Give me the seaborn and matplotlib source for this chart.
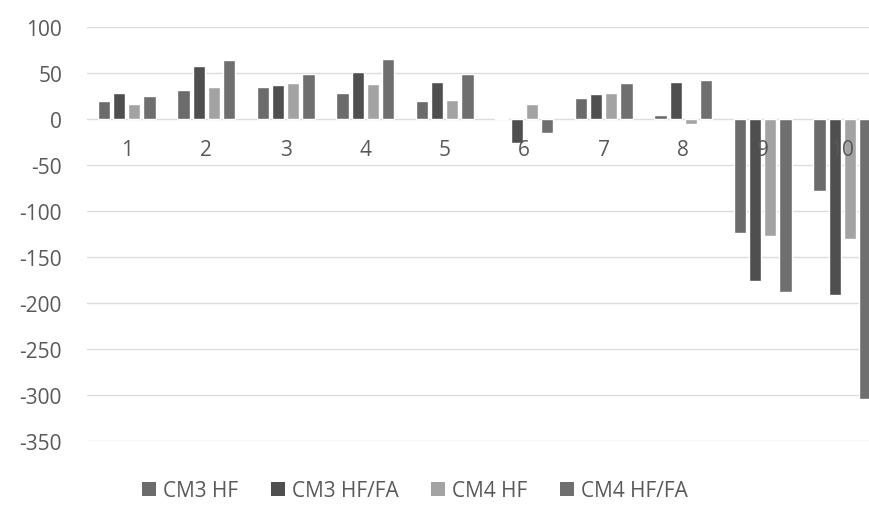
import matplotlib
matplotlib.use("Agg")
import matplotlib.pyplot as plt
from matplotlib.patches import Patch
import pandas as pd
import seaborn as sns

categories = ["1", "2", "3", "4", "5", "6", "7", "8", "9", "10"]
series_names = ["CM3 HF", "CM3 HF/FA", "CM4 HF", "CM4 HF/FA"]
cm3_hf = [20, 32, 35, 29, 20, 1.5, 23, 5, -124, -78]
cm3_hf_fa = [29, 58, 37, 51, 41, -26, 27, 41, -176, -191]
cm4_hf = [16, 35, 39, 38, 21, 16, 29, -5, -127, -130]
cm4_hf_fa = [25, 64, 49, 66, 49, -15, 39, 43, -188, -305]
y_ticks = [100, 50, 0, -50, -100, -150, -200, -250, -300, -350]

colors = ["#6b6b6b", "#4f4f4f", "#a3a3a3", "#6f6f6f"]
text_color = "#595959"
grid_color = "#dcdcdc"

sns.set_theme(style="white")
plt.rcParams["font.family"] = ["Open Sans", "DejaVu Sans"]

df = pd.DataFrame({
    "category": categories * 4,
    "series": [s for s in series_names for _ in categories],
    "value": cm3_hf + cm3_hf_fa + cm4_hf + cm4_hf_fa,
})

fig = plt.figure(figsize=(8.7, 5.1), dpi=100)
ax = fig.add_axes([87 / 870, 1 - 441.7 / 510, (882 - 87) / 870, (441.7 - 28.3) / 510])

sns.barplot(data=df, x="category", y="value", hue="series", order=categories,
            hue_order=series_names, palette=colors, width=0.76, gap=0.18,
            saturation=1, errorbar=None, ax=ax, legend=False, zorder=3)

ax.set_ylim(-350, 100)
ax.set_xlim(-0.5, 9.5)
ax.set_yticks(y_ticks)
ax.set_yticklabels([str(v) for v in y_ticks])
ax.set_xlabel("")
ax.set_ylabel("")

for v in y_ticks:
    ax.axhline(v, color=grid_color, linewidth=1, zorder=1)

for side in ["top", "right", "left", "bottom"]:
    ax.spines[side].set_visible(False)
ax.spines["bottom"].set_position(("data", 0))

ax.tick_params(axis="y", length=0, pad=18, labelsize=15, labelcolor=text_color)
ax.tick_params(axis="x", length=0, pad=14, labelsize=15, labelcolor=text_color)
# category labels sit on top of the bars
ax.xaxis.set_zorder(5)

handles = [Patch(facecolor=c, edgecolor="none", label=n) for c, n in zip(colors, series_names)]
fig.legend(handles=handles, loc="center", bbox_to_anchor=(415 / 870, 1 - 492 / 510), ncol=4,
           frameon=False, fontsize=15, labelcolor=text_color, handlelength=0.68,
           handleheight=0.68, handletextpad=0.35, columnspacing=1.55)

fig.savefig("out.png", dpi=100)
